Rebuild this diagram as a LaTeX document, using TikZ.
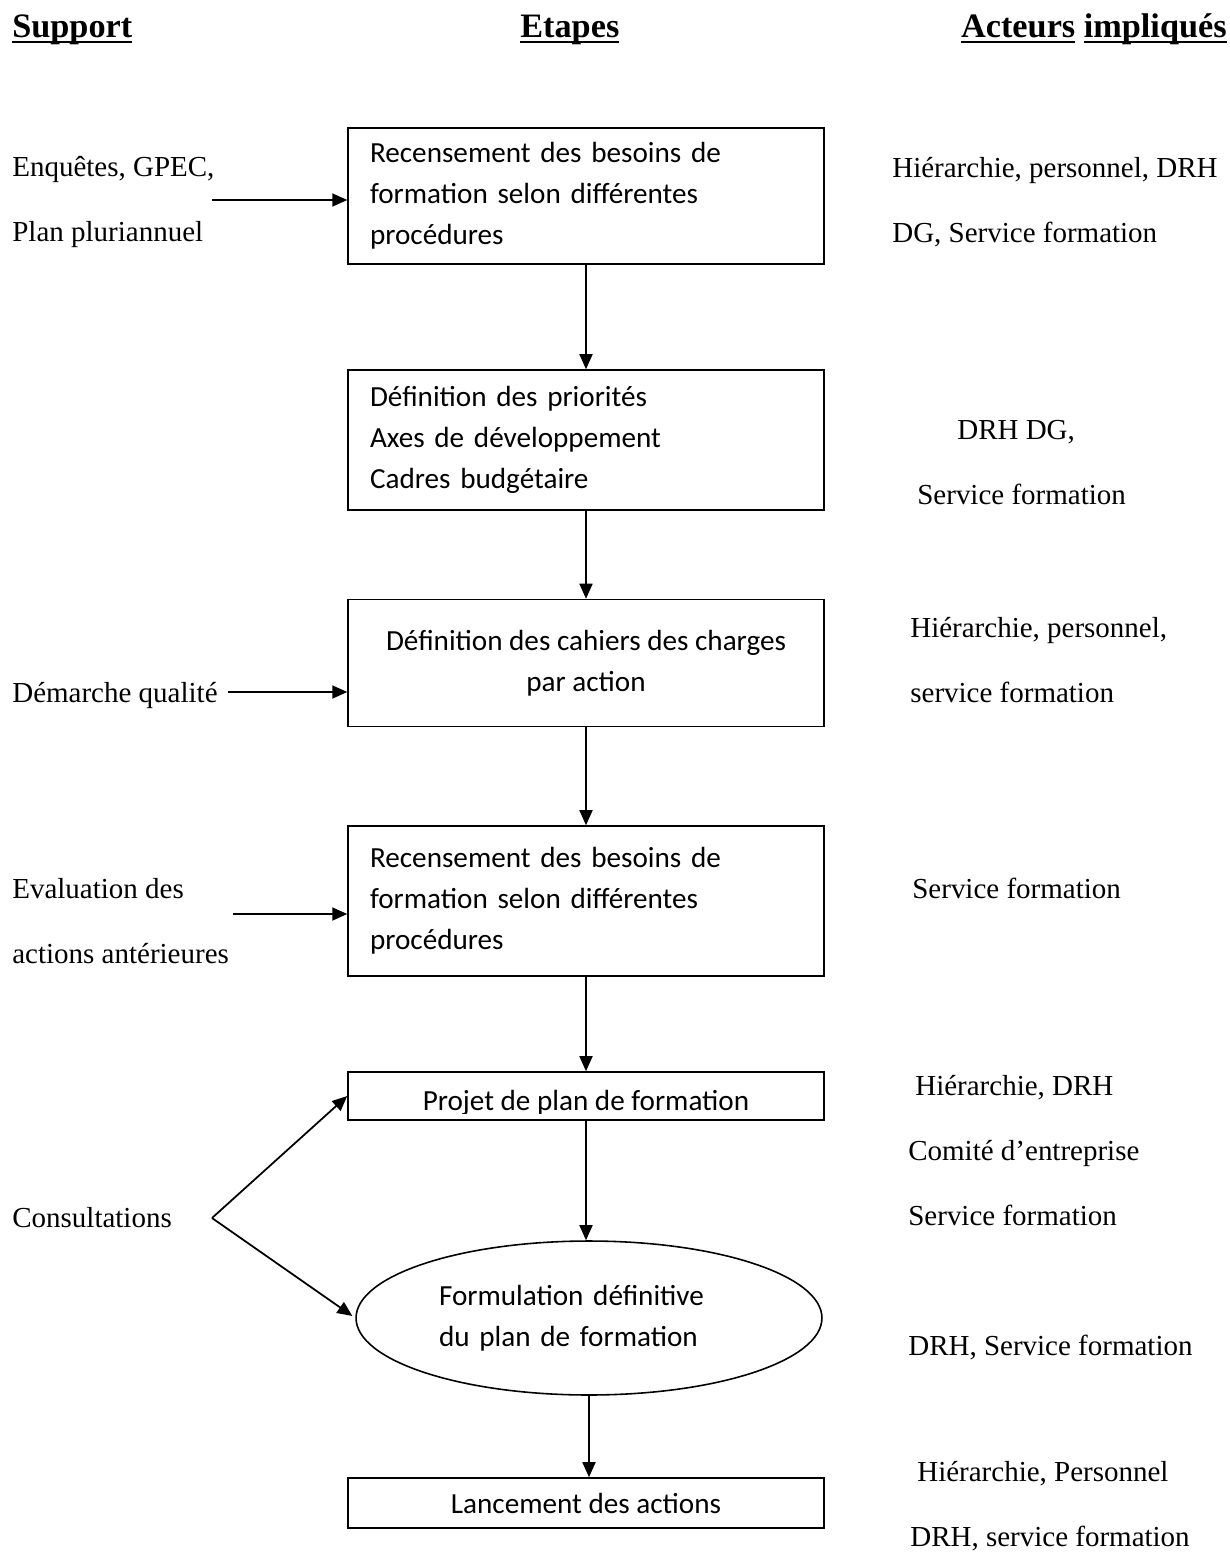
\documentclass[tikz,border=0pt]{standalone}
\usepackage{fontspec}
\setmainfont{Liberation Serif}
\newfontfamily\calibri{Carlito}
\usepackage{tikz}
\usetikzlibrary{arrows.meta,shapes.geometric}
\newcommand\souligne[1]{\setbox0\hbox{#1}\rlap{\rule[-3.6pt]{\wd0}{1.5pt}}\box0\relax}
\tikzset{
  titre/.style={font=\bfseries\fontsize{19.5}{22}\selectfont, inner sep=0pt},
  support/.style={font=\fontsize{16.5}{37}\selectfont, align=left,
    inner sep=0pt, anchor=west},
  acteur/.style={font=\fontsize{16.5}{37}\selectfont, align=left,
    inner sep=0pt, anchor=west},
  etape/.style={draw, line width=.9pt, minimum width=9.52cm,
    font=\calibri\fontsize{16.6}{23.3}\selectfont, inner xsep=0pt},
  fleche/.style={-{Triangle[length=3mm,width=2.6mm]}, line width=1pt}
}

\begin{document}
\begin{tikzpicture}[x=.02cm, y=-.02cm]
\path[use as bounding box] (0,0) rectangle (1230,1553);

% titres
\node[titre, anchor=base west] (tsup) at (12,37) {\souligne{Support}};
\node[titre, anchor=base west] (teta) at (520,37) {\souligne{Etapes}};
\node[titre, anchor=base east] (tact) at (1227,37)
  {\souligne{Acteurs} \souligne{impliqués}};

% etapes
\node[etape, minimum height=2.72cm, text width=8.64cm, align=left] (b1)
  at (586,196) {Recensement des besoins de\\formation selon différentes\\procédures};
\node[etape, minimum height=2.8cm, text width=8.64cm, align=left] (b2)
  at (586,440) {Définition des priorités\\Axes de développement\\Cadres budgétaire};
\node[etape, minimum height=2.54cm, align=center] (b3)
  at (586,663) {Définition des cahiers des charges\\par action};
\node[etape, minimum height=3cm, text width=8.64cm, align=left] (b4)
  at (586,901) {Recensement des besoins de\\formation selon différentes\\procédures};
\node[etape, minimum height=.96cm] (b5) at (586,1096) {};
\begin{scope}
  \clip (348,1072) rectangle (824,1113);
  \node[font=\calibri\fontsize{16.6}{23.3}\selectfont, anchor=base] (b5t)
    at (586,1110) {Projet de plan de formation};
\end{scope}
\node[etape, ellipse, minimum width=9.32cm, minimum height=3.08cm,
  text width=6cm, align=left, inner sep=0pt] (e1)
  at (589,1318) {Formulation définitive\\du plan de formation};
\node[etape, minimum height=1cm] (b6) at (586,1503) {Lancement des actions};

\draw[fleche] (b1.south) -- (b2.north);
\draw[fleche] (b2.south) -- (b3.north);
\draw[fleche] (b3.south) -- (b4.north);
\draw[fleche] (b4.south) -- (b5.north);
\draw[fleche] (b5.south) -- (b5.south |- e1.north);
\draw[fleche] (e1.south) -- (e1.south |- b6.north);

% supports
\node[support] (s1) at (12,202) {Enquêtes, GPEC,\\Plan pluriannuel};
\node[support] (s2) at (12,695) {Démarche qualité};
\node[support] (s3) at (12,921) {Evaluation des\\actions antérieures};
\node[support] (s4) at (12,1218) {Consultations};

\coordinate (a1) at (212,200);
\coordinate (a2) at (228,692);
\coordinate (a3) at (233,914);
\coordinate (a4) at (212,1218);
\draw[fleche] (a1) -- (a1 -| b1.west);
\draw[fleche] (a2) -- (a2 -| b3.west);
\draw[fleche] (a3) -- (a3 -| b4.west);
\draw[fleche] (a4) -- (b5.west);
\draw[fleche, shorten >=2pt] (a4) -- (e1.west);

% acteurs
\node[acteur] (r1) at (892,202) {Hiérarchie, personnel, DRH\\DG, Service formation};
\node[acteur] (r2) at (917,463) {\hspace*{.8cm}DRH DG,\\Service formation};
\node[acteur] (r3) at (910,660) {Hiérarchie, personnel,\\service formation};
\node[acteur] (r4) at (912,888) {Service formation};
\node[acteur] (r5) at (908,1151)
  {\hspace*{.14cm}Hiérarchie, DRH\\Comité d’entreprise\\Service formation};
\node[acteur] (r6) at (908,1348) {DRH, Service formation};
\node[acteur] (r7) at (910,1506) {\hspace*{.14cm}Hiérarchie, Personnel\\DRH, service formation};
\end{tikzpicture}
\end{document}
